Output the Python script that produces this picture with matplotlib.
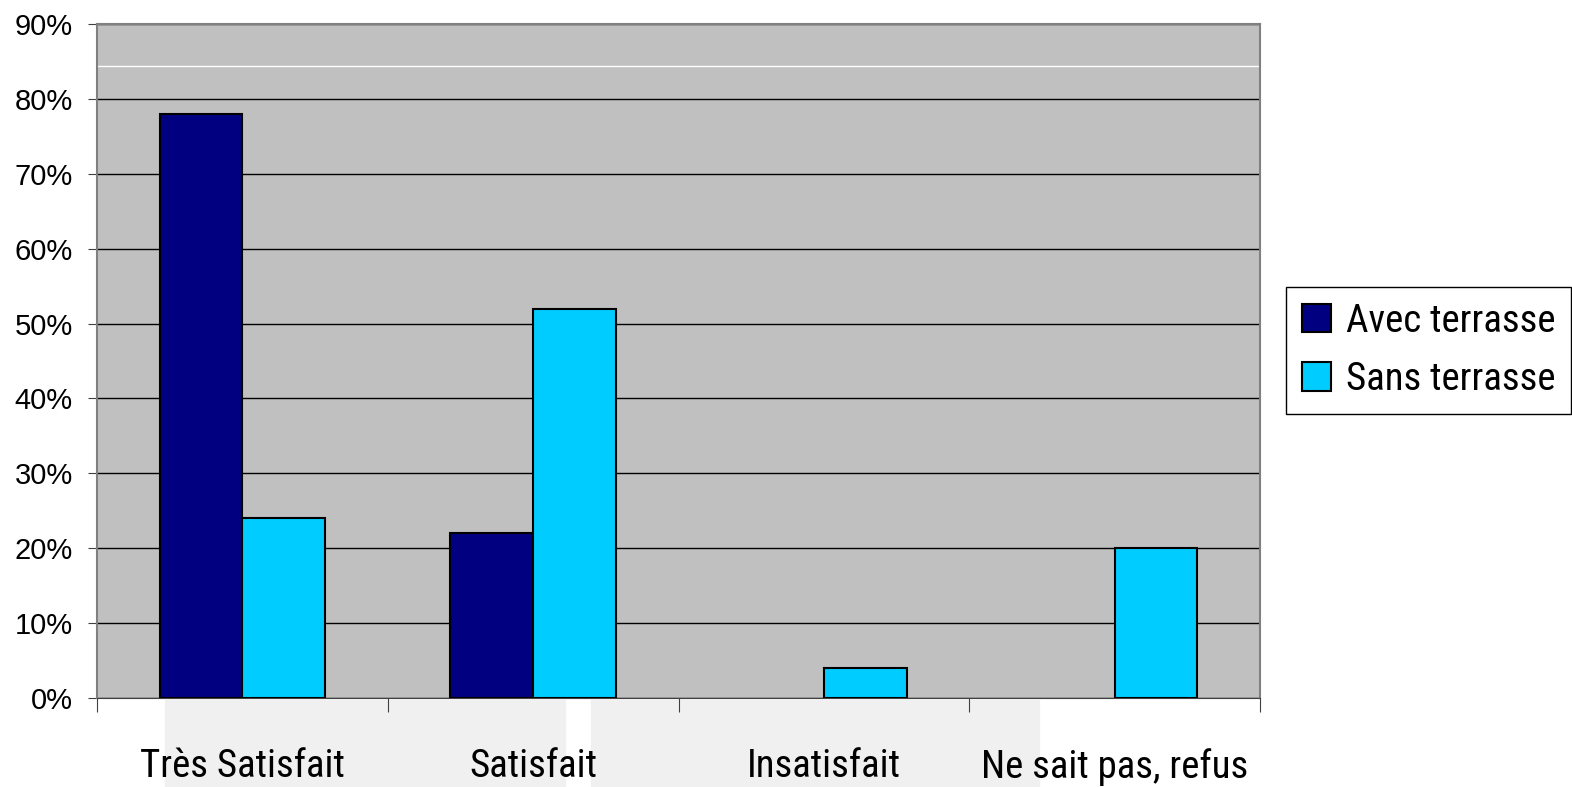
import numpy as np
import matplotlib.pyplot as plt
from matplotlib import font_manager
from matplotlib.patches import Rectangle

# data
categories = ['Très Satisfait', 'Satisfait', 'Insatisfait', 'Ne sait pas, refus']
avec = [0.78, 0.22, 0.0, 0.0]
sans = [0.24, 0.52, 0.04, 0.20]
series_names = ['Avec terrasse', 'Sans terrasse']

# pick a condensed font if one exists, else Liberation Sans a bit smaller
names = {f.name for f in font_manager.fontManager.ttflist}
narrow = None
for n in ['Liberation Sans Narrow', 'Arial Narrow', 'Roboto Condensed']:
    if n in names:
        narrow = n
        break
if narrow is not None:
    lab_size, leg_size = 28, 28
else:
    narrow, lab_size, leg_size = 'Liberation Sans', 25, 25

fig = plt.figure(figsize=(15.72, 7.87), dpi=100)
# light grey blocks behind the category labels (as in the source image)
for x0, x1 in [(165, 565), (591, 1039)]:
    fig.patches.append(Rectangle((x0 / 1572, 0), (x1 - x0) / 1572, 87 / 787,
                                 transform=fig.transFigure, color='#f0f0f0', zorder=-5))

ax = fig.add_axes([97 / 1572, 1 - 698 / 787, (1260 - 97) / 1572, (698 - 24) / 787])
ax.set_facecolor('#c0c0c0')

x = np.arange(len(categories))
w = 0.285
avec_m = np.where(np.array(avec) > 0, avec, np.nan)
sans_m = np.where(np.array(sans) > 0, sans, np.nan)
ax.bar(x - w / 2, avec_m, w, color='#000080', edgecolor='black', linewidth=1.5,
       label=series_names[0], zorder=3)
ax.bar(x + w / 2, sans_m, w, color='#00ccff', edgecolor='black', linewidth=1.5,
       label=series_names[1], zorder=3)

ax.set_xlim(-0.5, len(categories) - 0.5)
ax.set_ylim(0, 0.9)
ax.set_yticks(np.arange(0, 0.91, 0.1))
ax.set_yticklabels([f'{int(round(v * 100))}%' for v in np.arange(0, 0.91, 0.1)],
                   fontsize=21, family='Liberation Sans')
ax.yaxis.grid(True, color='black', linewidth=1)
ax.axhline(0.844, color='white', linewidth=1, zorder=2)
ax.set_axisbelow(True)

ax.set_xticks(np.arange(len(categories) + 1) - 0.5)
ax.set_xticklabels([])
ax.set_xticks(x, minor=True)
ax.set_xticklabels(categories, minor=True, fontsize=lab_size,
                   family=[narrow, 'DejaVu Sans'])
ax.tick_params(axis='x', which='major', length=10, direction='out', color='#404040')
ax.tick_params(axis='x', which='minor', length=0, pad=36)
ax.tick_params(axis='y', length=6.5, pad=11, color='#404040')

for s in ['top', 'right', 'left']:
    ax.spines[s].set_color('#808080')
    ax.spines[s].set_linewidth(1.5)
ax.spines['bottom'].set_color('#404040')

leg = ax.legend(loc='upper left', bbox_to_anchor=(1286 / 1572, 1 - 287 / 787),
                bbox_transform=fig.transFigure, fancybox=False, framealpha=1,
                edgecolor='black', prop={'family': narrow, 'size': leg_size},
                handlelength=0.75, handleheight=0.75, handletextpad=0.4,
                borderpad=0.4, labelspacing=0.55, borderaxespad=0)
leg.get_frame().set_linewidth(1)

fig.savefig('out.png', dpi=100)
